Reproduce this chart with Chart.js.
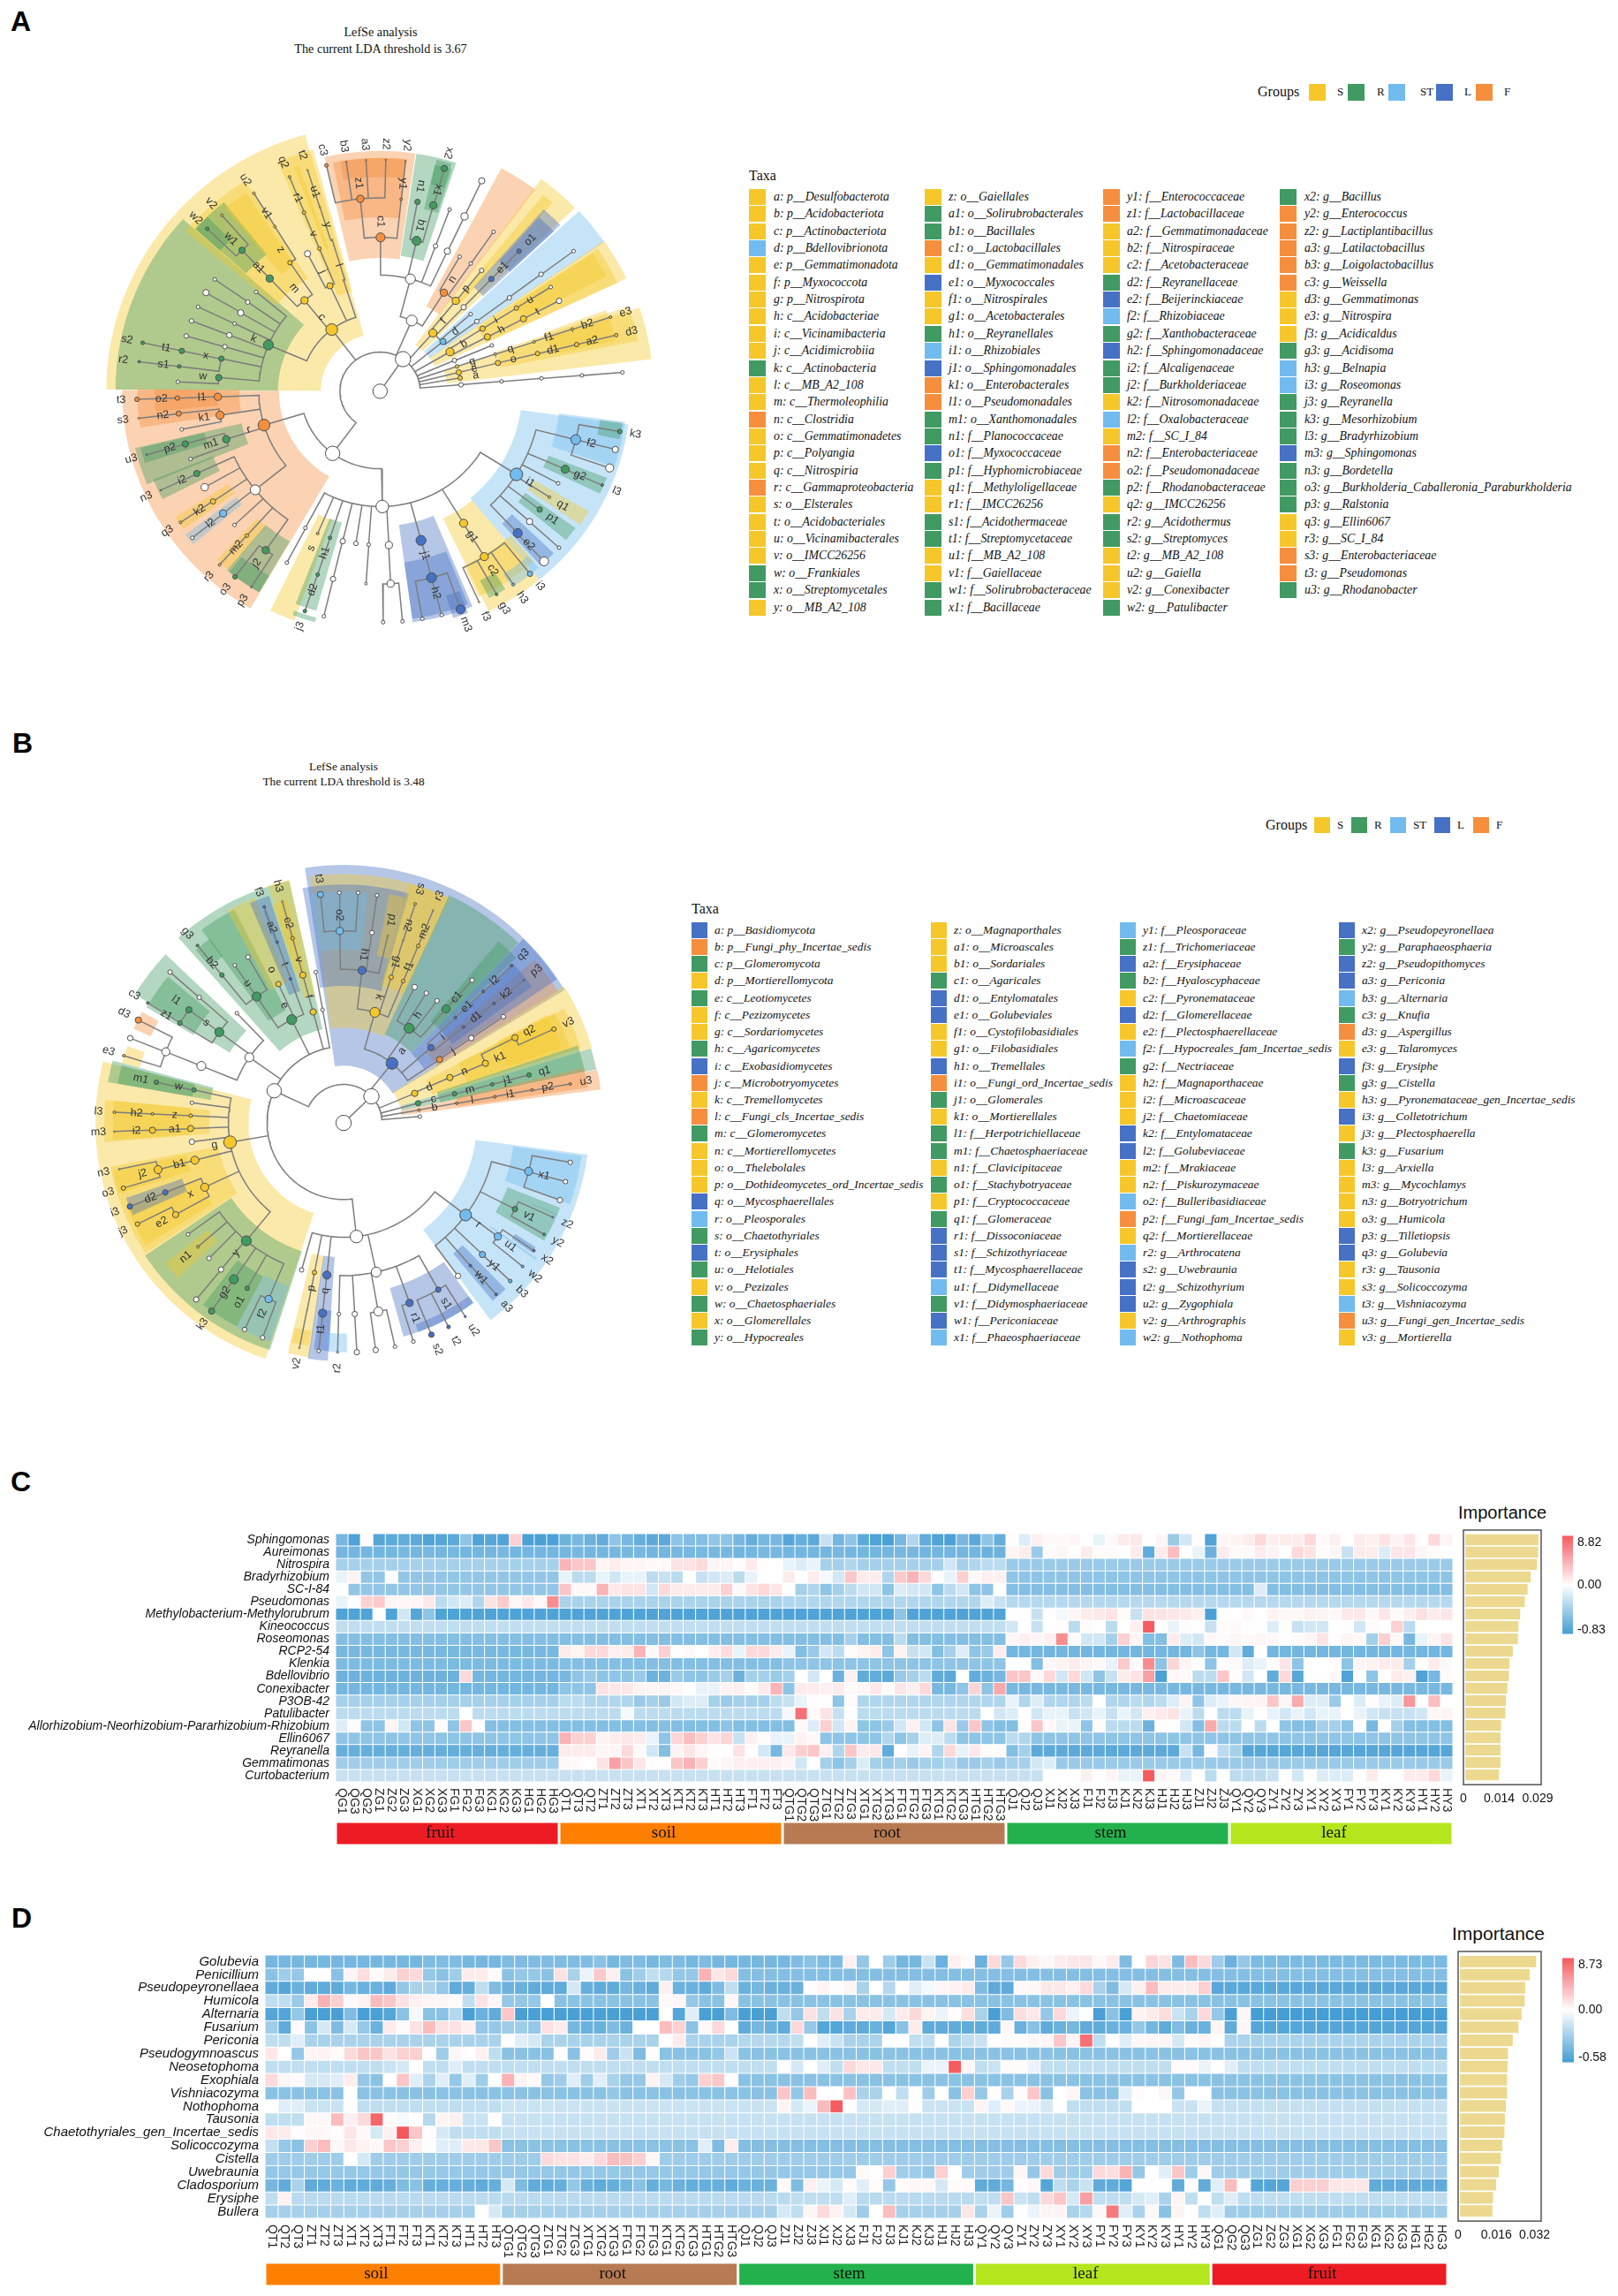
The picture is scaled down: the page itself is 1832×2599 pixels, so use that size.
<!DOCTYPE html>
<html><head><meta charset="utf-8"><title>LefSe and Random Forest importance</title>
<script src="https://cdn.jsdelivr.net/npm/chart.js@4"></script>
<style>html,body{margin:0;padding:0;background:#fff}#page{position:relative;width:1832px;height:2599px;overflow:hidden}canvas{position:absolute}.t{position:absolute;white-space:nowrap;color:#111;line-height:1}.s{position:absolute}</style>
</head><body><div id="page"></div>
<script>
const groupColor={S:'#F5C72B',R:'#419A61',T:'#71BBEE',L:'#4671C4',F:'#F58F3E',N:'#FFFFFF'};
const groupNames=[['S','S'],['R','R'],['T','ST'],['L','L'],['F','F']];

// Panel A cladogram: id, x, y, group, size, parent id
const nodesA=[['_root',845,893,'N',16,null],['_K',897,818,'N',17,'_root'],
['c',735,749,'S',13,'_K'],['_P2',737,1038,'N',16,'_K'],['_T',917,728,'N',12,'_K'],['f',965,757,'S',9,'_K'],['d',988,777,'T',7,'_K'],['b',1004,801,'S',9,'_K'],['_a1',1014,821,'N',5,'_K'],['_a2',1099,786,'N',4,'_a1'],['g',1020,835,'S',4,'_K'],['e',1024,849,'S',6,'_K'],['a',1027,862,'S',5,'_K'],
['_w1',1029,878,'N',5,'_K'],['_w2',1121,870,'N',4,'_w1'],['_w3',1212,863,'N',4,'_w2'],['_w4',1304,856,'N',4,'_w3'],['_w5',1396,849,'N',4,'_w4'],
['o',1113,827,'S',6,'e'],['d1',1203,805,'S',5,'o'],['a2',1292,784,'S',5,'d1'],['d3',1382,762,'S',4,'a2'],
['q',1107,806,'S',3,'g'],['f1',1195,778,'S',3,'q'],['b2',1282,748,'S',3,'f1'],['e3',1369,720,'S',3,'b2'],
['h',1089,766,'S',7,'b'],['t',1171,724,'S',7,'h'],['_b1',1252,682,'N',6,'t'],['i',1078,747,'S',6,'b'],['u',1155,699,'S',5,'i'],['_b2',1233,650,'N',4,'u'],
['_d1',1065,730,'N',5,'d'],['_d2',1139,675,'N',5,'_d1'],['_d3',1211,620,'N',5,'_d2'],['_d4',1285,566,'N',4,'_d3'],
['p',1017,682,'S',8,'f'],['_f1',1035,697,'N',6,'f'],['_f2',1051,713,'N',4,'f'],['_p1',1076,611,'N',5,'p'],['_p2',1051,595,'N',4,'p'],['_p3',1103,521,'N',4,'_p2'],['e1',1098,631,'L',6,'_f1'],['o1',1161,566,'L',5,'e1'],
['_T1',914,631,'N',11,'_T'],['n',990,663,'F',8,'_T'],['_n1',1026,579,'N',4,'n'],
['c1',846,534,'F',10,'_T1'],['b1',928,542,'R',10,'_T1'],['_t1',971,554,'N',5,'_T1'],['_t2',1003,469,'N',4,'_t1'],['_t3',998,566,'N',7,'_T1'],['_t4',1037,485,'N',8,'_t3'],['_t5',1076,402,'N',7,'_t4'],
['z1',800,444,'F',8,'c1'],['y1',893,445,'F',3,'c1'],['c3',723,366,'F',4,'z1'],['b3',768,358,'F',2,'z1'],['a3',813,354,'F',2,'z1'],['z2',858,353,'F',2,'z1'],['y2',903,356,'F',2,'y1'],
['n1',930,451,'R',6,'b1'],['x1',966,459,'R',8,'b1'],['x2',991,373,'R',7,'x1'],
['m',673,681,'S',8,'c'],['j',731,647,'S',7,'c'],['l',762,634,'S',2,'c'],['k',591,785,'R',11,'c'],
['_j1',680,572,'N',7,'j'],['v',707,560,'S',4,'j'],['y',736,540,'S',2,'l'],['r1',672,476,'S',4,'v'],['q2',639,393,'S',3,'r1'],['u1',708,463,'S',2,'y'],['t2',680,377,'S',2,'u1'],
['z',640,593,'S',5,'m'],['a1',594,630,'R',8,'m'],['v1',606,509,'S',3,'z'],['u2',558,431,'S',3,'v1'],['w1',531,564,'R',7,'a1'],['w2',452,514,'R',4,'w1'],['v2',485,482,'S',3,'w1'],
['w',478,861,'R',7,'k'],['x',484,817,'R',6,'k'],['_k1',492,789,'N',5,'k'],['_k2',502,762,'N',6,'k'],['_k3',514,735,'N',4,'k'],['_k4',528,710,'N',7,'k'],['_k5',544,685,'N',5,'k'],['_k6',563,661,'N',4,'k'],
['_w6',385,871,'N',4,'w'],['t1',394,799,'R',6,'x'],['s2',305,780,'R',4,'t1'],['s1',388,835,'R',4,'x'],['r2',297,824,'R',3,'s1'],['_k7',404,764,'N',5,'_k1'],['_k8',416,729,'N',5,'_k2'],['_k9',431,696,'N',4,'_k3'],['_k10',449,663,'N',7,'_k4'],['_k11',469,632,'N',4,'_k5'],
['r',581,972,'F',13,'_P2'],['_P3',850,1162,'N',14,'_P2'],
['l1',476,906,'F',8,'r'],['k1',481,949,'F',9,'r'],['m1',495,1005,'R',8,'r'],['_r1',561,1123,'N',11,'r'],
['o2',384,909,'F',5,'l1'],['t3',292,912,'F',5,'o2'],['n2',387,945,'F',6,'k1'],['s3',296,956,'F',2,'n2'],['_r2',394,982,'N',4,'k1'],['p2',402,1016,'R',7,'m1'],['u3',314,1041,'R',2,'p2'],['_r3',414,1051,'N',4,'m1'],
['i2',428,1085,'R',7,'_r1'],['n3',346,1124,'R',2,'i2'],['_r4',446,1117,'N',8,'_r1'],['k2',465,1150,'S',6,'_r1'],['q3',391,1199,'S',3,'k2'],['l2',488,1178,'T',8,'_r1'],['_r5',418,1235,'N',4,'l2'],['_r6',514,1205,'N',4,'_r1'],['m2',542,1230,'S',4,'_r1'],['r3',480,1298,'S',3,'m2'],['j2',585,1264,'R',8,'_r1'],['o3',515,1326,'R',5,'j2'],['p3',552,1350,'R',2,'j2'],
['_s1',675,1212,'N',4,'_P3'],['_s2',633,1293,'N',4,'_s1'],['s',703,1225,'S',3,'_P3'],['h1',731,1235,'R',4,'_P3'],['d2',703,1321,'R',4,'h1'],['j3',674,1406,'R',4,'d2'],['_s3',760,1243,'N',6,'_P3'],['_s4',738,1331,'N',6,'_s3'],['_s5',717,1418,'N',4,'_s4'],['_s6',790,1248,'N',5,'_P3'],['_s7',819,1251,'N',4,'_P3'],['_s8',813,1342,'N',3,'_s7'],['_s9',865,1252,'N',8,'_P3'],['_s10',869,1342,'N',8,'_s9'],['_s11',852,1432,'N',4,'_s10'],['_s12',896,1430,'N',4,'_s10'],
['j1',938,1241,'L',11,'_P3'],['h2',962,1328,'L',11,'j1'],['_h1',941,1424,'N',4,'h2'],['_h2',985,1415,'N',4,'h2'],['m3',1028,1402,'L',10,'h2'],
['g1',1035,1201,'S',9,'_P3'],['c2',1082,1279,'S',9,'g1'],['f3',1070,1385,'S',2,'c2'],['g3',1110,1367,'R',3,'c2'],['h3',1148,1344,'T',3,'c2'],['i3',1186,1319,'T',6,'c2'],
['i1',1155,1087,'T',14,'_P3'],['f2',1290,1006,'T',11,'i1'],['k3',1390,987,'R',5,'f2'],['_i1',1380,1029,'N',7,'f2'],['_i2',1367,1072,'N',9,'f2'],['g2',1266,1075,'R',9,'i1'],['l3',1350,1112,'R',3,'g2'],['_i3',1250,1108,'N',4,'i1'],['q1',1230,1140,'S',3,'i1'],['p1',1208,1169,'R',6,'i1'],['_i4',1185,1197,'N',7,'i1'],['_i5',1252,1258,'N',4,'_i4'],['e2',1158,1224,'L',10,'i1'],['_i6',1218,1290,'N',10,'e2']];

// Panel A clade shading: two opposite corners of each annular sector, group
const wedgesA=[[808,763,222,889,'S'],[672,738,243,889,'R'],[608,693,538,402,'S'],[540,618,490,452,'R'],[505,540,425,515,'R'],[620,620,540,430,'S'],[782,660,612,358,'S'],[728,560,650,370,'S'],
[775,590,925,338,'F'],[765,495,905,352,'F'],[762,400,905,352,'F'],[892,577,1018,360,'R'],[945,468,1008,375,'R'],[960,410,1008,362,'R'],
[950,695,1198,422,'F'],[925,785,1288,465,'S'],[1015,683,1237,453,'S'],[1058,650,1255,505,'L'],[1115,590,1240,520,'L'],[945,800,1355,545,'T'],[958,815,1405,630,'S'],[1065,745,1385,640,'S'],[1150,690,1360,625,'S'],
[990,845,1462,818,'S'],[1110,800,1432,775,'S'],[1220,755,1380,775,'S'],
[1165,937,1207,1333,'T'],[1252,945,1378,1070,'T'],[1345,960,1390,1005,'R'],[1228,1043,1345,1132,'R'],[1195,1100,1300,1205,'S'],[1175,1130,1268,1240,'R'],[1145,1180,1210,1300,'L'],
[988,1190,1207,1333,'S'],[1035,1300,1195,1290,'S'],[1072,1335,1130,1355,'R'],[1125,1320,1205,1305,'T'],
[888,1205,1055,1395,'L'],[900,1292,1045,1390,'L'],[995,1370,1045,1410,'L'],
[705,1180,650,1428,'S'],[730,1190,700,1405,'R'],[650,1405,697,1432,'R'],
[615,892,550,1400,'F'],[525,890,300,978,'F'],[475,890,335,940,'F'],[530,968,315,1110,'R'],[445,990,310,1060,'R'],[465,1045,350,1145,'R'],[500,1110,398,1215,'S'],[518,1140,420,1250,'T'],[565,1190,500,1310,'S'],[585,1205,570,1362,'R'],[530,1280,570,1362,'R']];

// Panel B cladogram
const nodesB=[['_root',782,910,'N',17,null],['_K',847,848,'N',17,'_root'],
['_x0',960,895,'N',4,'_K'],['b',958,880,'F',3,'_K'],['l',1046,864,'F',3,'b'],['i1',1135,849,'F',3,'l'],['p2',1222,833,'F',3,'i1'],['u3',1311,819,'F',3,'p2'],
['c',956,864,'R',6,'_K'],['m',1041,842,'R',5,'c'],['j1',1129,820,'R',4,'m'],['q1',1215,798,'R',5,'j1'],
['d',948,841,'S',7,'_K'],['n',1030,804,'S',7,'d'],['k1',1113,771,'S',7,'n'],['q2',1182,711,'S',7,'k1'],['v3',1273,691,'S',5,'q2'],
['a',895,771,'L',13,'_K'],['j',1006,762,'F',7,'a'],['_j1',1080,712,'N',6,'j'],['_j2',1155,662,'N',5,'_j1'],['i',986,734,'L',7,'a'],['e1',1043,664,'L',3,'i'],['l2',1108,603,'L',3,'e1'],['q3',1174,543,'L',3,'l2'],['d1',1062,686,'L',3,'i'],['k2',1133,631,'L',3,'d1'],['p3',1203,577,'L',2,'k2'],
['h',935,689,'R',11,'a'],['c1',1021,644,'R',9,'h'],['_c1',1082,577,'N',5,'c1'],['_c2',1000,625,'N',5,'h'],['_c3',975,607,'N',5,'h'],['_c4',948,593,'N',6,'h'],
['k',855,652,'S',11,'a'],['h1',825,554,'L',9,'k'],['o2',773,462,'T',8,'h1'],['t3',728,377,'T',7,'o2'],['_o1',772,373,'N',4,'o2'],['_o2',816,373,'N',4,'o2'],['_h1',848,466,'N',5,'h1'],['_h2',860,379,'N',4,'_h1'],['p1',885,473,'S',2,'h1'],
['g1',893,570,'S',5,'k'],['n2',921,484,'S',2,'g1'],['s3',949,399,'S',3,'n2'],['f1',921,579,'S',4,'k'],['m2',956,497,'S',4,'f1'],['r3',991,414,'S',2,'m2'],
['_L',620,835,'N',16,'_K'],['_u1',733,646,'N',4,'_L'],['_u2',717,558,'N',4,'_u1'],['f',711,651,'S',7,'_L'],['v',687,565,'S',7,'f'],['c2',663,479,'S',4,'v'],['h3',639,393,'S',2,'c2'],
['e',661,669,'R',11,'_L'],['o',630,586,'S',6,'e'],['t',658,574,'L',3,'e'],['a2',627,488,'L',3,'t'],['f3',597,406,'L',3,'a2'],['u',579,615,'R',10,'e'],['b2',498,565,'R',5,'u'],['g3',441,496,'R',3,'b2'],['_u3',528,542,'N',4,'u'],['_u4',559,523,'N',5,'u'],
['_M',562,757,'N',10,'_L'],['s',492,698,'R',10,'_M'],['l1',421,646,'R',7,'s'],['c3',325,630,'R',3,'l1'],['z1',400,677,'R',5,'s'],['_s1',445,617,'N',5,'s'],['_s2',377,558,'N',5,'_s1'],['_m1',450,777,'N',10,'_M'],['_m2',533,654,'N',4,'_M'],['_m3',367,744,'N',9,'_m1'],['_m4',284,712,'N',6,'_m3'],['d3',303,670,'F',7,'_m3'],['e3',269,753,'S',3,'_m3'],
['g',517,955,'S',14,'_L'],['w',433,833,'R',5,'g'],['m1',345,815,'R',5,'w'],['_g1',428,863,'N',4,'g'],['z',425,893,'S',4,'g'],['h2',336,889,'S',3,'z'],['l3',247,885,'S',3,'h2'],['a1',425,923,'S',7,'g'],['i2',336,927,'S',7,'a1'],['m3',247,930,'S',2,'i2'],['_g2',428,954,'N',6,'g'],
['b1',435,997,'S',9,'g'],['j2',349,1019,'S',9,'b1'],['n3',258,1018,'S',2,'j2'],['o3',268,1062,'S',5,'j2'],['x',458,1060,'S',9,'g'],['d2',366,1072,'L',6,'x'],['i3',283,1105,'L',6,'d2'],['e2',390,1124,'S',7,'x'],['j3',301,1146,'S',5,'e2'],
['y',555,1185,'R',11,'g'],['_y1',419,1170,'N',4,'y'],['n1',442,1199,'S',3,'y'],['_y2',468,1226,'N',5,'y'],['_y3',496,1252,'N',6,'y'],['_y4',438,1322,'N',6,'_y3'],['g2',526,1275,'R',10,'y'],['k3',474,1349,'R',7,'g2'],['o1',557,1296,'R',5,'y'],['f2',607,1321,'T',8,'y'],['_y5',551,1392,'N',5,'f2'],['_y6',593,1411,'N',5,'f2'],
['_Q',812,1175,'N',14,'_L'],['_q1',684,1253,'N',5,'_Q'],['p',714,1259,'S',5,'_Q'],['_q2',697,1347,'N',2,'p'],['v2',679,1435,'S',2,'_q2'],['q',743,1265,'L',9,'_Q'],['t1',733,1354,'L',9,'q'],['_q3',724,1442,'N',4,'t1'],
['_R',858,1258,'N',11,'_Q'],['_r1',771,1356,'N',4,'_R'],['r2',768,1445,'T',2.5,'_r1'],['_r2',808,1356,'N',6,'_R'],['_r3',813,1445,'N',6,'_r2'],['_r4',863,1350,'N',10,'_R'],['_r5',857,1440,'N',6,'_r4'],['_r6',902,1432,'N',4,'_r4'],
['r1',936,1330,'L',8,'_R'],['_r7',945,1420,'N',4,'r1'],['s1',1003,1299,'L',6,'_R'],['s2',987,1404,'L',6,'s1'],['t2',1027,1386,'L',4,'s1'],['u2',1066,1362,'L',2.5,'s1'],
['r',1067,1125,'T',13,'_Q'],['x1',1214,1023,'T',9,'r'],['_x1',1311,1002,'N',5,'x1'],['_x2',1300,1047,'N',5,'x1'],['_x3',1287,1090,'N',6,'x1'],['v1',1182,1111,'R',6,'r'],['z2',1270,1130,'L',2,'v1'],['y2',1250,1170,'R',3,'v1'],['u1',1142,1175,'T',8,'r'],['x2',1226,1208,'L',3,'u1'],['w2',1200,1245,'T',3,'u1'],['y1',1106,1217,'T',7,'r'],['b3',1171,1279,'T',4,'y1'],['w1',1078,1243,'L',3,'r'],['a3',1138,1310,'L',3,'w1'],['_x4',1049,1267,'N',6,'r']];

const wedgesB=[[762,778,1298,600,'L'],[975,745,1282,603,'F'],[752,690,1030,385,'S'],[727,595,935,375,'L'],[725,510,838,373,'T'],[860,520,925,385,'S'],[870,590,1025,385,'S'],[878,703,1190,490,'R'],[985,672,1185,525,'R'],[940,748,1280,575,'L'],[1010,695,1222,592,'L'],
[898,838,1362,735,'S'],[975,810,1335,735,'S'],[1050,770,1310,735,'S'],[1140,720,1290,735,'S'],[915,870,1372,785,'R'],[1000,838,1345,790,'R'],[915,882,1382,832,'F'],[1045,850,1352,828,'F'],
[633,743,655,345,'R'],[607,672,527,412,'R'],[470,545,470,480,'R'],[612,600,575,385,'S'],[655,612,608,380,'L'],[628,490,595,415,'L'],[690,620,655,343,'S'],[668,560,650,390,'S'],
[555,695,295,610,'R'],[470,650,322,640,'R'],[350,672,292,690,'F'],[318,745,265,770,'S'],
[567,855,600,1460,'S'],[478,828,232,815,'R'],[435,820,255,818,'R'],[470,880,225,955,'S'],[425,875,245,950,'S'],[490,965,320,1215,'S'],[415,985,258,1075,'S'],[445,1040,320,1195,'S'],[405,1040,290,1125,'L'],
[520,1085,610,1440,'R'],[465,1160,395,1272,'S'],[535,1230,533,1385,'R'],[595,1265,610,1420,'T'],
[708,1215,702,1457,'S'],[668,1388,700,1430,'S'],[735,1220,745,1465,'L'],[725,1345,748,1442,'L'],[745,1400,790,1445,'T'],
[890,1295,1085,1330,'L'],[950,1380,1085,1330,'L'],
[1090,950,1125,1370,'T'],[1178,965,1310,1100,'T'],[1165,1060,1250,1185,'R'],[1225,1100,1280,1125,'L'],[1125,1150,1230,1230,'T'],[1175,1180,1230,1200,'L'],[1060,1195,1130,1325,'L']];

// Legends
const taxaA1=['a: p__Desulfobacterota','b: p__Acidobacteriota','c: p__Actinobacteriota','d: p__Bdellovibrionota','e: p__Gemmatimonadota','f: p__Myxococcota','g: p__Nitrospirota','h: c__Acidobacteriae','i: c__Vicinamibacteria','j: c__Acidimicrobiia','k: c__Actinobacteria','l: c__MB_A2_108','m: c__Thermoleophilia','n: c__Clostridia','o: c__Gemmatimonadetes','p: c__Polyangia','q: c__Nitrospiria','r: c__Gammaproteobacteria','s: o__Elsterales','t: o__Acidobacteriales','u: o__Vicinamibacterales','v: o__IMCC26256','w: o__Frankiales','x: o__Streptomycetales','y: o__MB_A2_108'];
const taxaA2=['z: o__Gaiellales','a1: o__Solirubrobacterales','b1: o__Bacillales','c1: o__Lactobacillales','d1: o__Gemmatimonadales','e1: o__Myxococcales','f1: o__Nitrospirales','g1: o__Acetobacterales','h1: o__Reyranellales','i1: o__Rhizobiales','j1: o__Sphingomonadales','k1: o__Enterobacterales','l1: o__Pseudomonadales','m1: o__Xanthomonadales','n1: f__Planococcaceae','o1: f__Myxococcaceae','p1: f__Hyphomicrobiaceae','q1: f__Methyloligellaceae','r1: f__IMCC26256','s1: f__Acidothermaceae','t1: f__Streptomycetaceae','u1: f__MB_A2_108','v1: f__Gaiellaceae','w1: f__Solirubrobacteraceae','x1: f__Bacillaceae'];
const taxaA3=['y1: f__Enterococcaceae','z1: f__Lactobacillaceae','a2: f__Gemmatimonadaceae','b2: f__Nitrospiraceae','c2: f__Acetobacteraceae','d2: f__Reyranellaceae','e2: f__Beijerinckiaceae','f2: f__Rhizobiaceae','g2: f__Xanthobacteraceae','h2: f__Sphingomonadaceae','i2: f__Alcaligenaceae','j2: f__Burkholderiaceae','k2: f__Nitrosomonadaceae','l2: f__Oxalobacteraceae','m2: f__SC_I_84','n2: f__Enterobacteriaceae','o2: f__Pseudomonadaceae','p2: f__Rhodanobacteraceae','q2: g__IMCC26256','r2: g__Acidothermus','s2: g__Streptomyces','t2: g__MB_A2_108','u2: g__Gaiella','v2: g__Conexibacter','w2: g__Patulibacter'];
const taxaA4=['x2: g__Bacillus','y2: g__Enterococcus','z2: g__Lactiplantibacillus','a3: g__Latilactobacillus','b3: g__Loigolactobacillus','c3: g__Weissella','d3: g__Gemmatimonas','e3: g__Nitrospira','f3: g__Acidicaldus','g3: g__Acidisoma','h3: g__Belnapia','i3: g__Roseomonas','j3: g__Reyranella','k3: g__Mesorhizobium','l3: g__Bradyrhizobium','m3: g__Sphingomonas','n3: g__Bordetella','o3: g__Burkholderia_Caballeronia_Paraburkholderia','p3: g__Ralstonia','q3: g__Ellin6067','r3: g__SC_I_84','s3: g__Enterobacteriaceae','t3: g__Pseudomonas','u3: g__Rhodanobacter'];
const taxaAGroups=['SSSTSSSSSSRSSFSSSFSSSSRRS','SRRFSLSSRTLFFRRLRSSRRSSRR','FFSSSRLTRLRRSTSFFRSRRSSSR','RFFFFFSSSRTTRRRLRRRSSFFR'];
const taxaB1=['a: p__Basidiomycota','b: p__Fungi_phy_Incertae_sedis','c: p__Glomeromycota','d: p__Mortierellomycota','e: c__Leotiomycetes','f: c__Pezizomycetes','g: c__Sordariomycetes','h: c__Agaricomycetes','i: c__Exobasidiomycetes','j: c__Microbotryomycetes','k: c__Tremellomycetes','l: c__Fungi_cls_Incertae_sedis','m: c__Glomeromycetes','n: c__Mortierellomycetes','o: o__Thelebolales','p: o__Dothideomycetes_ord_Incertae_sedis','q: o__Mycosphaerellales','r: o__Pleosporales','s: o__Chaetothyriales','t: o__Erysiphales','u: o__Helotiales','v: o__Pezizales','w: o__Chaetosphaeriales','x: o__Glomerellales','y: o__Hypocreales'];
const taxaB2=['z: o__Magnaporthales','a1: o__Microascales','b1: o__Sordariales','c1: o__Agaricales','d1: o__Entylomatales','e1: o__Golubeviales','f1: o__Cystofilobasidiales','g1: o__Filobasidiales','h1: o__Tremellales','i1: o__Fungi_ord_Incertae_sedis','j1: o__Glomerales','k1: o__Mortierellales','l1: f__Herpotrichiellaceae','m1: f__Chaetosphaeriaceae','n1: f__Clavicipitaceae','o1: f__Stachybotryaceae','p1: f__Cryptococcaceae','q1: f__Glomeraceae','r1: f__Dissoconiaceae','s1: f__Schizothyriaceae','t1: f__Mycosphaerellaceae','u1: f__Didymellaceae','v1: f__Didymosphaeriaceae','w1: f__Periconiaceae','x1: f__Phaeosphaeriaceae'];
const taxaB3=['y1: f__Pleosporaceae','z1: f__Trichomeriaceae','a2: f__Erysiphaceae','b2: f__Hyaloscyphaceae','c2: f__Pyronemataceae','d2: f__Glomerellaceae','e2: f__Plectosphaerellaceae','f2: f__Hypocreales_fam_Incertae_sedis','g2: f__Nectriaceae','h2: f__Magnaporthaceae','i2: f__Microascaceae','j2: f__Chaetomiaceae','k2: f__Entylomataceae','l2: f__Golubeviaceae','m2: f__Mrakiaceae','n2: f__Piskurozymaceae','o2: f__Bulleribasidiaceae','p2: f__Fungi_fam_Incertae_sedis','q2: f__Mortierellaceae','r2: g__Arthrocatena','s2: g__Uwebraunia','t2: g__Schizothyrium','u2: g__Zygophiala','v2: g__Arthrographis','w2: g__Nothophoma'];
const taxaB4=['x2: g__Pseudopeyronellaea','y2: g__Paraphaeosphaeria','z2: g__Pseudopithomyces','a3: g__Periconia','b3: g__Alternaria','c3: g__Knufia','d3: g__Aspergillus','e3: g__Talaromyces','f3: g__Erysiphe','g3: g__Cistella','h3: g__Pyronemataceae_gen_Incertae_sedis','i3: g__Colletotrichum','j3: g__Plectosphaerella','k3: g__Fusarium','l3: g__Arxiella','m3: g__Mycochlamys','n3: g__Botryotrichum','o3: g__Humicola','p3: g__Tilletiopsis','q3: g__Golubevia','r3: g__Tausonia','s3: g__Solicoccozyma','t3: g__Vishniacozyma','u3: g__Fungi_gen_Incertae_sedis','v3: g__Mortierella'];
const taxaBGroups=['LFRSRSSRLFSFRSSSLTRLRSRSR','SSSRLLSSLFRSRRSRSRLLLTRLT','TRLRSLSTRSSSLLSSTFSTLLLST','LRLLTRFSLRSLSRSSSSLLSSTFS'];

// Heat maps
const genusC=['Sphingomonas','Aureimonas','Nitrospira','Bradyrhizobium','SC-I-84','Pseudomonas','Methylobacterium-Methylorubrum','Kineococcus','Roseomonas','RCP2-54','Klenkia','Bdellovibrio','Conexibacter','P3OB-42','Patulibacter','Allorhizobium-Neorhizobium-Pararhizobium-Rhizobium','Ellin6067','Reyranella','Gemmatimonas','Curtobacterium'];
const samplesC=['QG1','QG3','QG2','ZG1','ZG2','ZG3','XG1','XG2','XG3','FG1','FG2','FG3','KG1','KG2','KG3','HG1','HG2','HG3','QT1','QT3','QT2','ZT1','ZT2','ZT3','XT1','XT2','XT3','KT1','KT2','KT3','HT1','HT2','HT3','FT1','FT2','FT3','QTG1','QTG2','QTG3','ZTG1','ZTG2','ZTG3','XTG1','XTG2','XTG3','FTG1','FTG2','FTG3','KTG1','KTG2','KTG3','HTG1','HTG2','HTG3','QJ1','QJ2','QJ3','XJ1','XJ2','XJ3','FJ1','FJ2','FJ3','KJ1','KJ2','KJ3','HJ1','HJ2','HJ3','ZJ1','ZJ2','ZJ3','QY1','QY2','QY3','ZY1','ZY2','ZY3','XY1','XY2','XY3','FY1','FY2','FY3','KY1','KY2','KY3','HY1','HY2','HY3'];
const c00=[-.6,-.78,.2,-.75,-.72,-.7,-.72,-.78,-.75,-.72,-.5,-.78,-.75,-.78,2.5,-.8,-.8,-.8, -.65,-.6,-.65,-.7,-.5,-.6,-.68,-.72,-.72,-.5,-.55,-.55,-.48,-.5,-.6,-.68,-.6,-.6, -.75,-.68,-.72,-.25,-.62,-.5,-.72,-.78,-.8,-.6,-.35,-.7,-.78,-.8,-.6,-.72,-.5,-.68, .1,-.15,.8,.3,.3,.5,.1,-.1,.3,1,1.2,.1,.5,-.45,-.2,.1,-.78,.5, .6,1,2,.8,1,1,2,.3,.8,.1,1,.8,1.5,.7,1.3,.1,2,.6];
const c01=[-.62,-.62,-.62,-.62,-.62,-.6,-.62,-.6,-.62,-.6,-.62,-.62,-.62,-.6,-.62,-.62,-.62,-.62, -.62,-.6,-.62,-.62,-.6,-.6,-.6,-.62,-.62,-.6,-.6,-.6,-.6,-.6,-.62,-.62,-.6,-.6, -.62,-.62,-.62,-.62,-.6,-.62,-.62,-.62,-.62,-.6,-.6,-.62,-.62,-.62,-.62,-.62,-.65,-.65, .6,1,-.45,.3,.5,.1,1,.2,.2,.1,1,-.7,1,3.5,.1,-.1,-.65,1, .3,.3,1,.6,.1,2,1.5,.2,.5,-.25,1,1,-.15,1.3,1.3,.5,.2,0];
const c02=[-.4,-.4,-.4,-.4,-.4,-.4,-.4,-.4,-.4,-.4,-.4,-.4,-.4,-.4,-.4,-.4,-.4,-.4, 4,3,3,.6,1,.5,.5,.3,.3,1.5,1.5,2,.5,.5,.1,1,.1,.1, -.1,-.15,-.1,-.4,-.4,-.35,-.4,-.4,-.4,-.4,-.4,-.4,-.4,-.2,-.4,-.35,-.3,-.3, -.45,-.45,-.45,-.45,-.45,-.45,-.45,-.45,-.45,-.45,-.45,-.45,-.45,-.45,-.45,-.45,-.45,-.45, -.45,-.45,-.45,-.45,-.45,-.45,-.45,-.45,-.45,-.45,-.45,-.45,-.45,-.45,-.45,-.45,-.45,-.45];
const c03=[-.1,.6,-.48,-.48,0,-.48,-.48,-.48,-.48,-.48,-.48,-.48,-.48,-.48,-.48,-.48,-.48,-.48, -.1,-.3,-.3,-.1,-.2,-.1,-.1,-.3,-.25,-.3,0,-.25,-.2,-.15,-.3,-.1,0,0, 1,0,1,-.05,-.2,3,1,1,-.35,2.8,4,2,.1,-.1,2.5,.3,.8,.8, -.5,-.5,-.5,-.5,-.5,-.5,-.5,-.5,-.5,-.5,-.5,-.5,-.5,-.5,-.5,-.5,-.5,-.5, -.5,-.5,-.5,-.5,-.5,-.5,-.5,-.5,-.5,-.5,-.5,-.5,-.5,-.5,-.5,-.5,-.5,-.5];
const c04=[0,-.48,-.48,-.48,-.48,-.48,-.48,-.48,-.48,-.48,-.48,-.48,-.48,-.48,-.48,-.48,-.48,-.48, 3,.4,.3,4,1.2,1.5,1.5,-.2,2,1,1,1,1,2.5,.3,1.5,2,1.3, 0,-.4,-.35,-.5,-.4,-.3,-.2,-.2,-.5,-.15,-.2,-.2,-.5,-.3,-.2,-.5,-.5,0, -.55,-.55,-.55,-.55,-.55,-.55,-.55,-.55,-.55,-.55,-.55,-.55,-.55,-.55,-.55,-.55,-.55,-.55, -.55,-.55,-.15,-.55,-.55,-.55,-.55,-.55,-.55,-.55,-.55,-.55,-.55,-.55,-.55,-.55,-.55,-.55];
const c05=[-.1,.1,2.5,2.8,.5,.5,.5,1.2,-.3,-.2,-.15,-.35,1.5,2.8,.5,1.2,.3,6, -.38,-.38,-.38,-.38,-.38,-.38,-.38,-.38,-.38,-.38,-.38,-.38,-.38,-.38,-.38,-.38,-.38,-.38, -.35,-.35,-.35,-.35,-.35,-.35,-.35,-.35,-.35,-.35,-.35,-.35,-.35,-.35,-.35,-.35,-.15,-.25, -.33,-.33,-.33,-.33,-.33,-.33,-.33,-.33,-.33,-.33,-.33,-.33,-.33,-.33,-.33,-.33,-.33,-.33, -.33,-.33,-.33,-.33,-.33,-.33,-.33,-.33,-.33,-.33,-.33,-.33,-.33,-.33,-.33,-.33,-.33,-.33];
const c06=[-.78,-.78,-.78,0,-.78,-.2,-.75,-.5,-.78,-.78,-.78,-.78,-.78,-.78,-.78,-.78,-.78,-.78, -.78,-.78,-.78,-.78,-.78,-.78,-.78,-.78,-.78,-.78,-.78,-.78,-.78,-.78,-.78,-.78,-.78,-.78, -.78,-.78,-.78,-.78,-.78,-.78,-.78,-.78,-.78,-.5,-.78,-.78,-.78,-.78,-.78,-.78,-.78,-.78, .1,.1,-.25,.1,-.05,.5,1,1.2,1.5,.2,-.25,1.5,1.5,1.3,1.2,.8,-.8,.1, .1,.4,.1,.6,.4,.4,.7,.6,.4,1.2,1.2,.4,1.3,.2,.8,1.6,1,1.3];
const c07=[-.28,-.28,-.28,-.28,-.28,-.28,-.28,-.28,-.28,-.28,-.28,-.28,-.28,-.28,-.28,-.28,-.28,-.28, -.28,-.28,-.28,-.28,-.28,-.28,-.28,-.28,-.28,-.28,-.28,-.28,-.28,-.28,-.28,-.28,-.28,-.28, -.28,-.28,-.28,-.28,-.28,-.28,-.28,-.28,-.28,-.28,-.28,-.28,-.28,-.28,-.28,-.28,-.28,-.28, -.2,0,-.25,0,.1,-.3,.2,.1,-.3,.1,.8,8.6,0,-.1,.2,.1,-.25,.2, .3,.1,.1,-.15,.1,-.25,-.2,-.2,0,.1,-.2,.2,0,2.5,-.3,0,0,.1];
const c08=[-.55,-.55,-.55,-.55,-.55,-.55,-.55,-.55,-.55,-.55,-.55,-.55,-.55,-.55,-.55,-.55,-.55,-.55, -.55,-.55,-.55,-.55,-.55,-.55,-.55,-.55,-.55,-.55,-.55,-.55,-.55,-.55,-.55,-.55,-.55,-.55, -.55,-.55,-.55,-.55,-.55,-.4,-.55,-.55,-.55,-.3,-.55,-.55,-.55,-.55,-.55,-.55,-.55,-.55, .5,.8,.5,.8,6,.2,-.2,-.2,-.4,2.5,.6,-.55,-.55,1,-.15,-.2,.4,.3, .5,.3,.5,.4,.1,.2,.5,1.5,.1,.6,.4,-.4,2.5,.4,-.6,-.1,.6,1.5];
const c09=[-.6,-.6,-.6,-.6,-.6,-.6,-.6,-.6,-.6,-.6,-.6,-.6,-.6,-.6,-.6,-.6,-.6,-.6, 1,.6,2,2,.8,1,4,.3,2.5,.1,.4,.1,.9,1.8,-.1,2,2,1, -.1,-.55,-.45,-.2,-.3,.2,.6,1,-.5,.7,-.25,-.2,-.55,-.4,-.15,-.5,-.45,.9, -.62,-.62,-.62,-.62,-.62,-.62,-.62,-.62,-.62,-.62,-.62,-.62,-.62,-.62,-.62,-.5,-.62,-.62, -.2,-.7,0,-.62,-.62,-.62,-.62,-.62,-.62,-.62,-.62,-.62,-.62,-.62,-.62,-.62,-.62,-.62];
const c10=[-.58,-.58,-.58,-.58,-.58,-.58,-.58,-.58,-.58,-.58,-.58,-.58,-.58,-.58,-.58,-.58,-.58,-.58, -.55,-.55,-.55,-.55,-.55,-.55,-.55,-.55,-.55,-.55,-.55,-.55,-.55,-.55,-.55,-.55,-.55,-.55, -.5,-.5,-.5,-.5,-.5,-.5,-.5,-.5,-.5,-.5,-.5,-.5,-.5,-.5,-.5,-.5,-.5,-.5, 0,.1,-.55,.4,.6,1,.6,.3,-.1,2.8,.3,6,-.5,2.2,.6,.1,-.5,.1, .3,-.15,-.1,.1,1.3,-.5,0,.1,.2,-.5,.5,.7,1,1,-.4,.1,1,.3];
const c11=[-.65,-.65,-.65,-.65,-.65,-.65,-.65,-.65,-.65,-.65,2,-.62,-.62,-.62,-.62,-.62,-.62,-.62, -.6,-.5,-.45,-.5,-.5,-.5,-.45,-.65,-.65,-.45,-.5,-.5,-.45,-.4,-.65,-.4,-.4,-.45, -.4,0,-.2,0,-.65,.8,-.7,-.7,-.72,-.45,-.4,-.3,-.7,-.72,0,-.7,-.65,-.6, 3,3,.3,2,-.2,2,-.2,-.5,-.25,1,1.5,5,-.8,.4,.2,-.3,-.3,3, .1,-.2,0,-.7,2,-.75,.1,.1,.3,-.78,.1,-.5,.1,1,.8,-.78,-.6,.2];
const c12=[-.62,-.62,-.62,-.62,-.62,-.62,-.62,-.62,-.62,-.62,-.62,-.62,-.62,-.62,-.62,-.62,-.62,-.62, -.5,-.5,-.5,1.5,1.2,1.2,.6,.5,.6,.4,0,-.1,-.1,.7,.8,.2,1,4, -.5,1,1,.8,1,.3,.5,1.2,.2,1.3,.8,2,-.6,-.6,-.5,2.2,-.5,4.5, -.6,-.6,-.6,-.6,-.6,-.6,-.6,-.6,-.6,-.6,-.6,-.6,-.6,-.6,-.6,-.6,-.6,-.6, -.6,-.6,-.6,-.6,-.6,-.6,-.6,-.6,-.6,-.6,-.6,-.6,-.6,-.6,-.6,-.6,-.6,-.6];
const c13=[-.4,-.4,-.4,-.4,-.4,-.4,-.4,-.4,-.4,-.4,-.4,-.4,-.4,-.4,-.4,-.4,-.4,-.4, -.3,-.3,-.35,-.35,-.35,-.35,-.45,-.4,-.45,-.2,-.15,-.15,-.4,-.45,-.4,-.4,-.4,-.3, -.25,-.1,.1,.1,-.5,.2,-.35,-.35,-.35,-.35,-.35,-.35,-.35,-.35,-.35,-.35,-.35,-.35, -.1,-.35,-.15,-.35,-.35,-.35,-.3,0,-.35,-.35,-.3,-.35,-.3,-.15,.6,-.5,-.15,-.1, .5,.6,.6,3,.5,4.5,-.15,-.15,-.45,0,-.15,.1,-.1,-.15,5.5,.1,3.5,.1];
const c14=[-.3,-.3,-.3,-.3,-.3,-.3,-.3,-.3,-.3,-.3,0,-.3,-.3,-.3,-.3,-.3,-.3,-.3, -.3,-.3,-.3,-.3,-.3,-.05,-.3,-.3,-.3,-.3,-.3,-.3,-.3,-.3,-.3,-.3,-.3,-.3, -.05,7.5,.3,1.5,-.25,.1,-.3,-.3,-.3,-.3,-.3,-.3,-.3,-.3,-.3,-.3,0,-.2, -.15,0,-.2,-.1,-.1,-.25,-.2,-.1,-.25,-.1,-.2,.8,1.2,1.5,-.1,-.3,0,-.3, -.3,-.1,.1,-.1,-.2,-.1,-.2,-.1,-.1,.1,-.1,-.2,-.25,-.25,-.25,-.2,.5,.6];
const c15=[-.15,.2,-.5,-.5,.6,-.2,-.5,-.5,.2,-.5,3,.1,-.55,-.55,-.55,-.55,-.55,-.55, -.55,-.55,-.55,-.55,-.55,-.55,-.55,-.55,-.55,-.55,-.55,-.55,-.55,-.5,-.55,-.55,-.55,-.55, -.55,.3,-.15,2.5,-.2,.7,-.5,-.5,-.45,-.2,.8,-.2,-.5,1.5,-.45,3,-.5,-.55, -.55,.1,3,.3,-.1,-.1,-.5,.2,-.3,-.3,-.3,-.65,.1,.1,-.2,-.55,4.5,-.3, -.3,0,-.3,0,-.5,-.55,-.55,-.4,-.4,-.5,.1,-.6,0,-.4,-.55,-.55,-.55,-.55];
const c16=[-.5,-.5,-.5,-.5,-.5,-.5,-.5,-.5,-.5,-.5,-.5,-.5,-.5,-.5,-.5,-.5,-.5,-.5, 4,2.5,2.5,.6,1,1.3,1,-.1,-.5,2.2,3.5,2.5,1.5,2.2,-.25,.8,.2,-.1, -.1,.7,.3,-.5,-.5,-.5,-.5,-.5,-.35,-.5,-.4,-.15,-.15,-.3,-.5,-.5,-.5,-.5, -.3,-.35,-.5,-.5,-.5,-.5,-.5,-.5,-.5,-.5,-.5,-.5,-.5,-.5,-.5,-.5,-.5,-.5, -.5,-.5,-.5,-.5,-.5,-.5,-.5,-.5,-.5,-.5,-.5,-.5,-.5,-.5,-.5,-.5,-.5,-.5];
const c17=[-.68,-.68,-.68,-.68,-.68,-.68,-.68,-.68,-.68,-.68,-.68,-.68,-.68,-.68,-.68,-.68,-.68,-.68, 1,1,1,.5,.5,2,.3,-.2,-.55,.7,1.3,.5,.1,.1,1.5,.1,-.2,-.6, 1.2,2.5,3,.8,-.35,3,1,1.2,-.7,0,-.1,.6,-.35,2,-.1,1.2,.2,.3, -.55,-.4,-.72,-.72,-.72,-.72,-.72,-.72,-.72,-.72,-.72,-.72,-.72,-.72,-.25,-.6,.2,-.3, -.4,-.75,-.75,-.75,-.75,-.75,-.75,-.75,-.75,-.75,-.75,-.75,-.75,-.75,-.75,-.75,-.75,-.75];
const c18=[-.42,-.42,-.42,-.42,-.42,-.42,-.42,-.42,-.42,-.42,-.42,-.42,-.42,-.42,-.42,-.42,-.42,-.42, .4,.3,.1,1.5,5,3,1.3,.1,.1,3,4,2.5,.2,.5,.8,.8,.8,.8, .5,-.2,0,-.4,-.5,-.4,-.15,-.4,-.45,-.4,-.45,-.4,-.4,-.35,-.45,-.45,-.4,-.45, -.4,-.4,-.2,-.15,-.45,-.45,-.45,-.45,-.45,-.45,-.45,-.45,-.45,-.45,-.45,-.45,-.45,-.45, -.45,-.45,-.45,-.45,-.45,-.45,-.45,-.45,-.45,-.45,-.45,-.45,-.45,-.45,-.45,-.45,-.45,-.45];
const c19=[-.25,-.25,-.25,-.25,-.25,-.25,-.25,-.25,-.25,-.25,-.25,-.25,-.25,-.25,-.25,-.25,-.25,-.25, -.25,-.25,-.25,-.25,-.25,-.25,-.25,-.25,-.25,-.25,-.25,-.25,-.25,-.25,-.25,-.25,-.25,-.25, -.25,-.25,-.25,-.25,-.25,-.25,-.25,-.25,-.25,-.25,-.25,-.25,-.25,-.25,-.25,-.25,-.25,-.25, -.25,-.25,-.25,.1,.1,.1,.8,.1,.5,-.1,-.1,8.6,.5,.3,-.15,.1,-.3,.1, -.3,-.3,-.3,-.25,.1,-.2,.1,-.15,-.15,-.15,.1,1,0,0,1,1,2,-.1];
const valuesC=[c00,c01,c02,c03,c04,c05,c06,c07,c08,c09,c10,c11,c12,c13,c14,c15,c16,c17,c18,c19];
const importanceC=[.0294,.0292,.0288,.0263,.0251,.024,.0222,.0215,.0213,.0193,.018,.0178,.0172,.0166,.0164,.0147,.0145,.0145,.0145,.0139];

const genusD=['Golubevia','Penicillium','Pseudopeyronellaea','Humicola','Alternaria','Fusarium','Periconia','Pseudogymnoascus','Neosetophoma','Exophiala','Vishniacozyma','Nothophoma','Tausonia','Chaetothyriales_gen_Incertae_sedis','Solicoccozyma','Cistella','Uwebraunia','Cladosporium','Erysiphe','Bullera'];
const samplesD=['QT1','QT2','QT3','ZT1','ZT2','ZT3','XT1','XT2','XT3','FT1','FT2','FT3','KT1','KT2','KT3','HT1','HT2','HT3','QTG1','QTG2','QTG3','ZTG1','ZTG2','ZTG3','XTG1','XTG2','XTG3','FTG1','FTG2','FTG3','KTG1','KTG2','KTG3','HTG1','HTG2','HTG3','QJ1','QJ2','QJ3','ZJ1','ZJ2','ZJ3','XJ1','XJ2','XJ3','FJ1','FJ2','FJ3','KJ1','KJ2','KJ3','HJ1','HJ2','HJ3','QY1','QY2','QY3','ZY1','ZY2','ZY3','XY1','XY2','XY3','FY1','FY2','FY3','KY1','KY2','KY3','HY1','HY2','HY3','QG1','QG2','QG3','ZG1','ZG2','ZG3','XG1','XG2','XG3','FG1','FG2','FG3','KG1','KG2','KG3','HG1','HG2','HG3'];
const d00=[-.65,-.65,-.65,-.65,-.65,-.65,-.65,-.65,-.65,-.65,-.65,-.65,-.6,-.6,-.6,-.65,-.65,-.65, -.6,-.6,-.6,-.6,-.6,-.6,-.6,-.55,-.65,-.6,-.6,-.65,-.6,-.6,-.65,-.6,-.65,-.65, -.65,-.65,-.65,-.65,-.6,-.55,-.6,-.6,.8,-.5,0,-.45,-.65,-.65,-.25,-.7,.8,.2, -.7,2,-.5,2,.8,.4,1,1.3,1.3,.4,1,-.6,0,2.2,1.5,-.6,3.5,2, -.45,-.7,-.5,-.62,-.62,-.62,-.62,-.62,-.62,-.62,-.62,-.62,-.62,-.62,-.62,-.62,-.62,-.62];
const d01=[-.55,-.45,-.5,0,0,-.55,.5,1.8,.2,1,2.5,2,-.5,-.55,-.45,1,1,.2, -.55,-.5,-.5,-.55,1.5,-.4,-.1,2.8,.8,-.55,-.45,-.3,-.35,-.5,-.5,4,1.2,2, -.58,-.58,-.58,-.58,-.58,-.58,-.58,-.58,-.58,-.58,-.58,-.58,-.58,-.58,-.58,-.58,-.58,-.58, -.58,-.58,-.58,-.58,-.58,-.58,-.58,-.58,-.58,-.58,-.58,-.58,-.58,-.58,-.58,-.58,-.58,-.58, -.58,-.58,-.58,-.58,-.58,-.58,-.58,-.58,-.58,-.58,-.58,-.58,-.58,-.58,-.58,-.58,-.58,-.58];
const d02=[-.75,-.8,-.7,-.75,-.75,-.75,-.65,-.7,-.7,-.75,-.5,-.4,-.4,-.5,-.75,-.72,-.3,-.6, -.68,-.7,-.75,-.75,-.75,-.2,-.72,-.75,-.75,-.65,-.7,-.75,.8,-.7,-.7,-.75,-.6,-.3, -.7,-.65,-.7,-.7,-.7,.1,.6,.1,.6,-.4,0,-.35,.1,-.15,-.05,.4,.7,1, -.6,-.75,-.75,.3,.4,1.2,1.2,.8,2,-.4,-.6,-.2,.8,3.5,1,1,1,2.5, -.78,-.78,-.78,-.78,-.78,-.78,-.78,-.78,-.78,-.78,-.78,-.78,-.78,-.78,-.78,-.78,-.78,-.78];
const d03=[-.3,-.3,-.48,1,4,2.5,.3,.7,3.5,3,1.5,.8,.5,.5,.2,-.3,1.5,.5, -.5,-.5,-.5,0,-.55,-.55,-.55,-.55,-.55,-.55,-.55,-.55,.3,.5,-.5,-.55,-.55,.5, -.55,-.55,-.55,-.55,-.55,-.55,-.55,-.55,-.55,-.55,-.55,-.55,-.55,-.55,-.55,-.55,-.55,-.55, -.55,-.55,-.55,-.55,-.55,-.55,-.55,-.55,-.55,-.55,-.55,-.55,-.55,-.55,-.55,-.55,-.55,-.55, -.55,-.55,-.55,-.55,-.55,-.55,-.55,-.55,-.55,-.55,-.55,-.55,-.55,-.55,-.55,-.55,-.55,-.55];
const d04=[-.8,-.8,-.5,-.85,-.85,-.85,-.6,-.85,-.85,-.8,-.55,-.05,-.55,-.55,-.35,-.85,-.7,-.75, 3,-.85,-.85,-.85,-.85,-.85,-.85,-.85,-.85,-.85,-.85,-.85,0,-.8,-.15,-.85,-.85,-.6, -.85,-.85,-.85,-.3,-.5,1.5,-.3,1.5,-.4,1,1,-.2,1,2,.6,-.1,.1,1.8, -.4,-.85,-.6,1.8,1.2,-.5,2,-.1,0,-.85,-.55,-.85,.6,1,1.8,-.25,-.4,2, -.5,-.85,.5,-.9,-.9,-.9,-.9,-.9,-.9,-.9,-.9,-.9,-.9,-.9,-.9,-.9,-.9,-.9];
const d05=[-.45,-.75,.3,-.55,-.2,-.6,-.2,-.5,-.7,1,.2,1.5,3.5,1.5,1.5,.8,-.5,-.5, -.45,-.45,-.5,1.5,1,-.65,-.7,-.7,-.6,-.7,0,0,3.5,2.5,-.55,.3,2,0, -.75,-.65,-.7,-.75,2,-.5,-.8,-.8,-.75,-.75,-.7,-.8,-.55,1,-.75,-.75,-.75,-.75, -.75,-.75,.4,-.7,-.55,-.75,-.7,-.65,-.75,-.75,-.7,-.7,-.5,-.65,-.75,-.6,-.7,-.7, .6,-.75,.5,-.8,-.8,-.8,-.8,-.8,-.8,-.8,-.8,-.8,-.8,-.8,-.8,-.8,-.8,-.8];
const d06=[-.3,-.3,-.15,-.4,-.4,-.4,-.4,-.4,-.4,-.4,-.4,-.4,-.4,-.4,-.4,-.4,-.4,-.4, .1,-.15,-.2,-.4,-.4,-.4,-.4,-.4,-.4,-.4,-.4,-.4,.1,1,-.4,-.4,-.4,-.4, -.35,-.35,-.35,-.35,-.3,.1,-.15,-.25,-.4,-.4,-.4,.1,0,-.3,-.3,.1,-.4,-.3, -.25,.1,.2,.2,.4,.5,3,.6,7.5,-.3,0,-.15,.4,.5,.6,-.2,.2,.6, .1,-.4,-.4,-.4,-.4,-.4,-.4,-.4,-.4,-.4,-.4,-.4,-.4,-.4,-.4,-.4,-.4,-.4];
const d07=[1.2,0,-.5,.6,.6,.2,2,3,3,1.5,2.5,2.5,.1,-.45,.4,.1,.8,-.3, -.55,-.55,-.55,-.55,.1,-.55,.2,1,-.45,-.25,-.6,.1,-.55,-.55,-.55,-.55,-.5,-.25, -.55,-.55,-.55,-.55,-.55,-.55,-.55,-.55,-.55,-.55,-.55,-.55,-.55,-.55,-.55,-.55,-.55,-.55, -.55,-.55,-.55,-.55,-.55,-.55,-.55,-.55,-.55,-.55,-.55,-.55,-.55,-.55,-.55,-.55,-.55,-.55, -.55,-.55,-.55,-.55,-.55,-.55,-.55,-.55,-.55,-.55,-.55,-.55,-.55,-.55,-.55,-.55,-.55,-.55];
const d08=[-.3,-.3,-.3,-.3,-.3,-.3,-.3,-.3,-.3,-.25,-.2,0,-.3,-.3,-.15,-.3,-.3,-.3, -.3,-.3,-.3,-.3,-.3,-.3,-.3,-.3,-.3,-.3,-.3,-.3,-.3,-.3,-.3,-.3,-.3,-.3, -.3,-.3,-.3,.1,-.2,0,-.15,-.3,2,1.2,1.2,-.3,-.3,-.3,-.1,-.1,8.5,.5, -.3,-.25,.2,.2,-.1,-.3,-.3,-.3,-.3,-.3,-.3,-.3,-.3,-.3,-.3,.2,.2,-.1, 0,-.15,-.3,-.3,-.3,-.3,-.3,-.3,-.3,-.3,-.3,-.3,-.3,-.3,-.3,-.3,-.3,-.3];
const d09=[2,.5,.2,-.2,-.2,-.15,1,-.5,-.55,.1,3,-.15,-.4,-.15,-.5,-.15,-.45,0, 4,.6,.3,-.5,-.45,-.15,-.45,-.15,-.4,-.5,-.5,.7,-.2,-.45,-.5,2.5,3,.1, -.55,-.55,-.55,-.55,-.55,-.55,-.55,-.55,-.55,-.55,-.55,-.55,-.55,-.55,-.55,-.55,-.55,-.55, -.55,-.55,-.55,-.55,-.55,-.55,-.55,-.55,-.55,-.55,-.55,-.55,-.55,-.55,-.55,-.55,-.55,-.55, -.55,-.55,-.55,-.55,-.55,-.55,-.55,-.55,-.55,-.55,-.55,-.55,-.55,-.55,-.55,-.55,-.55,-.55];
const d10=[-.55,-.55,-.55,-.55,-.55,-.55,.1,-.55,-.55,-.55,-.55,-.55,-.55,-.55,-.55,-.55,-.55,-.55, -.55,-.55,-.55,-.55,-.55,-.55,-.55,-.55,-.5,-.55,-.55,-.55,-.55,-.55,-.55,-.55,-.55,-.55, -.55,-.55,-.55,3,-.5,3.5,0,0,3.2,-.4,-.4,0,-.3,.1,-.45,0,-.55,2.5, -.5,.1,-.4,.2,3,-.55,0,.5,-.55,-.55,-.55,-.15,.2,0,.4,-.5,.1,0, -.55,-.55,-.55,-.55,-.55,-.55,-.55,-.55,-.55,-.55,-.55,-.55,-.55,-.55,-.55,-.55,-.55,-.55];
const d11=[0,-.15,-.15,-.25,-.25,-.25,.1,-.3,-.3,-.3,-.3,-.3,-.3,-.3,-.3,-.3,-.3,-.3, -.25,-.25,-.25,-.25,-.25,-.25,-.25,-.25,-.25,-.25,-.25,-.25,-.25,-.25,-.25,-.25,-.25,-.25, -.25,-.25,-.25,.6,-.2,-.1,3.5,8.5,.1,-.2,-.2,-.15,-.15,.1,-.25,-.25,-.25,-.25, .6,-.15,.3,-.1,-.1,-.2,0,-.3,-.3,-.3,-.3,-.3,0,0,0,-.25,-.25,-.1, -.28,-.28,-.28,-.28,-.28,-.28,-.28,-.28,-.28,-.28,-.28,-.28,-.28,-.28,-.28,-.28,-.28,-.28];
const d12=[-.3,-.3,-.3,.4,.4,3.5,.8,2,8,.2,-.05,.1,-.35,.6,.8,-.25,-.25,.1, -.27,-.27,-.27,-.27,-.27,-.27,-.27,-.27,-.27,-.27,-.27,-.27,-.27,-.27,-.27,-.27,-.27,-.27, -.27,-.27,-.27,-.27,-.27,-.27,-.27,-.27,-.27,-.27,-.27,-.27,-.27,-.27,-.27,-.27,-.27,-.27, -.27,-.27,-.27,-.27,-.27,-.27,-.27,-.27,-.27,-.27,-.27,-.27,-.27,-.27,-.27,-.27,-.27,-.27, -.27,-.27,-.27,-.27,-.27,-.27,-.27,-.27,-.27,-.27,-.27,-.27,-.27,-.27,-.27,-.27,-.27,-.27];
const d13=[1.2,1,.1,.4,.4,.1,1.3,.3,-.2,.8,8.8,3,.1,-.2,-.3,-.3,-.3,-.3, -.27,-.27,-.27,-.27,-.27,-.27,-.27,-.27,-.27,-.27,-.27,-.27,-.27,-.27,-.27,-.27,-.27,-.27, -.27,-.27,-.27,-.27,-.27,-.27,-.27,-.27,-.27,-.27,-.27,-.27,-.27,-.27,-.27,-.27,-.27,-.27, -.27,-.27,-.27,-.27,-.27,-.27,-.27,-.27,-.27,-.27,-.27,-.27,-.27,-.27,-.27,-.27,-.27,-.27, -.27,-.27,-.27,-.27,-.27,-.27,-.27,-.27,-.27,-.27,-.27,-.27,-.27,-.27,-.27,-.27,-.27,-.27];
const d14=[-.28,-.5,-.55,2.5,3.5,.4,1.2,.7,.4,3,2.5,.8,.1,-.15,-.15,1.2,1.2,3, -.55,-.55,-.55,-.55,-.55,-.55,-.55,-.55,-.55,-.55,-.55,-.55,-.55,-.55,-.55,-.15,-.6,.9, -.58,-.58,-.58,-.58,-.58,-.58,-.58,-.58,-.58,-.58,-.58,-.58,-.58,-.58,-.58,-.58,-.58,-.58, -.58,-.58,-.58,-.58,-.58,-.58,-.58,-.58,-.58,-.58,-.58,-.58,-.58,-.58,-.58,-.58,-.58,-.58, -.58,-.58,-.58,-.58,-.58,-.58,-.58,-.58,-.58,-.58,-.58,-.58,-.58,-.58,-.58,-.58,-.58,-.58];
const d15=[-.45,-.45,-.45,-.45,-.45,-.45,0,-.2,-.45,-.45,-.45,-.45,-.45,-.45,-.45,-.45,-.45,-.45, -.45,-.45,-.45,2,1.5,1.5,1,2,3.5,3.2,2.5,.4,-.45,-.45,-.45,-.45,-.45,-.45, -.45,-.45,-.45,-.45,-.45,-.45,-.45,-.45,-.45,-.45,-.45,-.45,-.45,-.45,-.45,-.45,-.45,-.45, -.45,-.45,-.45,-.45,-.45,-.45,-.45,-.45,-.45,-.45,-.45,-.45,-.45,-.45,-.45,-.45,-.45,-.45, -.45,-.45,-.45,-.45,-.45,-.45,-.45,-.45,-.45,-.45,-.45,-.45,-.45,-.45,-.45,-.45,-.45,-.45];
const d16=[-.5,-.5,-.5,-.5,-.5,-.5,-.5,-.5,-.5,-.5,-.5,-.5,-.5,-.5,-.5,-.5,-.5,-.5, -.5,-.5,-.5,-.5,-.5,-.5,-.5,-.5,-.5,-.5,-.5,-.5,-.5,-.5,-.5,-.5,-.5,-.5, -.5,-.5,-.5,-.5,-.5,-.5,-.5,-.5,-.5,.3,.1,2.5,-.45,-.45,-.5,2.5,0,-.45, -.45,-.45,-.45,.5,-.5,2,-.45,-.45,-.45,2,1.7,4,-.5,0,-.15,3,-.45,.4, -.45,-.45,-.45,-.45,-.45,-.45,-.45,-.45,-.45,-.45,-.45,-.45,-.45,-.45,-.45,-.45,-.45,-.45];
const d17=[-.65,-.75,-.4,-.75,-.75,-.7,-.75,-.75,-.75,-.72,-.6,-.55,-.72,-.72,-.72,-.72,-.75,-.72, -.2,-.6,-.75,-.75,-.72,-.5,-.7,-.75,-.72,-.65,-.55,-.72,-.65,-.7,-.72,-.72,-.72,-.75, -.7,-.7,-.7,.3,-.6,.8,-.1,-.2,.2,-.15,.2,-.5,.2,.4,.4,-.2,.2,.2, -.75,-.75,-.65,.1,.4,-.8,-.3,-.4,-.25,-.75,-.75,-.8,.1,.1,.1,-.75,.1,-.75, -.15,3.5,.1,-.8,-.8,-.8,2.5,2.5,2.5,1.3,1.3,1.3,-.75,-.75,-.75,-.75,-.75,-.75];
const d18=[-.3,.7,-.33,-.33,-.33,-.33,-.33,-.33,-.33,-.33,-.33,-.33,-.33,-.33,-.33,-.33,-.33,-.33, -.33,-.33,-.33,-.33,-.33,-.33,-.33,-.33,-.33,-.33,-.33,-.33,-.33,-.33,-.33,-.33,-.33,-.33, -.33,-.33,-.33,-.33,-.3,-.3,-.3,-.3,-.15,-.33,-.33,-.33,-.33,-.33,-.33,-.33,-.33,-.33, -.3,-.3,3,-.25,-.3,2,3,-.2,5,-.3,-.3,-.3,-.2,-.15,-.4,.6,-.3,.1, -.3,-.15,-.3,-.3,-.3,-.3,-.3,-.3,-.3,-.3,-.3,-.3,-.3,-.3,-.3,-.3,-.3,-.3];
const d19=[-.42,-.42,-.42,-.42,-.42,-.42,-.42,-.42,-.42,-.42,-.42,-.42,-.42,-.42,-.42,-.42,0,-.2, -.42,-.42,-.42,-.42,-.42,-.42,-.42,-.42,-.42,-.42,-.42,-.42,-.42,-.42,-.42,-.42,-.42,-.42, -.42,-.42,-.42,-.2,-.3,.5,2,.7,-.2,-.45,0,3.5,-.42,-.42,-.42,-.42,-.42,1.3, -.4,-.1,-.45,.1,-.1,.6,.6,-.4,-.35,.4,7,-.15,-.4,.4,-.55,.6,0,-.3, -.15,-.45,-.45,-.45,-.45,-.45,-.45,-.45,-.45,-.45,-.45,-.45,-.45,-.45,-.45,-.45,-.45,-.45];
const valuesD=[d00,d01,d02,d03,d04,d05,d06,d07,d08,d09,d10,d11,d12,d13,d14,d15,d16,d17,d18,d19];
const importanceD=[.0327,.03,.0281,.0279,.0266,.0253,.0229,.0209,.0207,.0205,.0205,.02,.0196,.0194,.0185,.0179,.017,.0159,.0146,.0144];

const tissueC=['fruit','soil','root','stem','leaf'];
const tissueD=['soil','root','stem','leaf','fruit'];
const tissueSize=[18,18,18,18,18];
const tissueColor={fruit:'#ED1C24',soil:'#FF7F00',root:'#B77A52',stem:'#22B14C',leaf:'#B5E61D'};

// ---------- helpers
const page=document.getElementById('page');
Chart.defaults.animation=false;Chart.defaults.responsive=false;Chart.defaults.devicePixelRatio=1;
Chart.defaults.plugins.legend.display=false;Chart.defaults.plugins.tooltip.enabled=false;
function T(txt,x,y,o={}){const d=document.createElement('div');d.className='t';d.textContent=txt;
 d.style.cssText=`left:${x}px;top:${y}px;font:${o.style||'normal'} ${o.weight||'normal'} ${o.size||13}px ${o.font||'"Liberation Serif"'};transform:translate(${o.center?'-50%':'0'},-50%);color:${o.color||'#111'}`;page.appendChild(d);}
function box(x,y,w,h,c){const d=document.createElement('div');d.className='s';d.style.cssText=`left:${x}px;top:${y}px;width:${w}px;height:${h}px;background:${c}`;page.appendChild(d);}
function cv(l,t,w,h){const c=document.createElement('canvas');c.width=w;c.height=h;c.style.cssText=`left:${l}px;top:${t}px;width:${w}px;height:${h}px`;page.appendChild(c);return c;}
function rgba(h,a){const n=parseInt(h.slice(1),16);return `rgba(${n>>16},${n>>8&255},${n&255},${a})`;}

function cladogram(nodes,wedges,rect,pxRadius,labelOff){
 const root=nodes[0],cx=root[1],cy=root[2];
 const pol=(x,y)=>({r:Math.hypot(x-cx,y-cy),a:Math.atan2(y-cy,x-cx)});
 const at=(r,a)=>({x:cx+r*Math.cos(a),y:cy+r*Math.sin(a)});
 const diff=(a,b)=>{let d=b-a;while(d>Math.PI)d-=2*Math.PI;while(d<-Math.PI)d+=2*Math.PI;return d;};
 const arc=(r,a,b)=>{const d=diff(a,b),n=Math.max(2,Math.ceil(Math.abs(d)/.04)),o=[];for(let i=0;i<=n;i++)o.push(at(r,a+d*i/n));return o;};
 const byId={};nodes.forEach(n=>byId[n[0]]=n);
 const ds=[];
 const nodePts=nodes.map(n=>({x:n[1],y:n[2]}));
 ds.push({type:'scatter',data:nodePts,order:1,showLine:false,pointRadius:nodes.map(n=>n[4]/pxRadius),pointBackgroundColor:nodes.map(n=>groupColor[n[3]]),pointBorderColor:'#4d4d4d',pointBorderWidth:nodes.map(n=>n[4]<3?0.6:1),pointHoverRadius:0});
 const links=[];
 nodes.forEach(n=>{if(!n[5])return;const p=byId[n[5]],P=pol(p[1],p[2]),C=pol(n[1],n[2]);
  if(p===root){links.push({x:p[1],y:p[2]},{x:n[1],y:n[2]},{x:null,y:null});return;}
  links.push(...arc(P.r,P.a,C.a),{x:n[1],y:n[2]},{x:null,y:null});});
 ds.push({type:'line',data:links,order:2,borderColor:'#7d7d7d',borderWidth:1.5,pointRadius:0,fill:false,tension:0,spanGaps:false});
 wedges.slice().reverse().forEach(w=>{const A=pol(w[0],w[1]),B=pol(w[2],w[3]);
  const outer=arc(B.r,B.a,A.a),inner=arc(A.r,A.a,B.a);
  ds.push({type:'line',data:inner.concat(outer),order:3,fill:'shape',backgroundColor:rgba(groupColor[w[4]],.4),borderWidth:0,borderColor:'transparent',pointRadius:0,tension:0});});
 const labels={id:'nodeLabels',afterDatasetsDraw(ch){const c=ch.ctx,X=ch.scales.x,Y=ch.scales.y,px=X.getPixelForValue(cx),py=Y.getPixelForValue(cy);
  c.save();c.font='12.5px "Liberation Sans"';c.fillStyle='#333';c.textAlign='center';c.textBaseline='middle';
  nodes.forEach(n=>{if(n[0][0]==='_')return;const x=X.getPixelForValue(n[1]),y=Y.getPixelForValue(n[2]),dx=x-px,dy=y-py,d=Math.hypot(dx,dy);
   let ang=Math.atan2(dy,dx)*180/Math.PI;if(dx<0)ang+=180;else if(ang>-90&&ang<-68)ang+=180;if(ang>180)ang-=360;
   c.save();c.translate(x+dx/d*labelOff,y+dy/d*labelOff);c.rotate(ang*Math.PI/180);c.fillText(n[0],0,0);c.restore();});
  c.restore();}};
 new Chart(cv(rect.l,rect.t,rect.w,rect.h),{type:'line',data:{datasets:ds},plugins:[labels],options:{layout:{padding:0},scales:{x:{type:'linear',min:0,max:1568,display:false},y:{type:'linear',min:0,max:1568,reverse:true,display:false}}}});
}

function legendGroups(l,x,xs,y,sw){T('Groups',x,y,{size:16});groupNames.forEach((g,i)=>{box(xs[i][0],y-sw/2,sw,sw,groupColor[g[0]]);T(g[1],xs[i][1],y,{size:13});});}
function legendTaxa(cols,groups,swx,tx,y0,dy,sw,sh,size){cols.forEach((col,i)=>col.forEach((t,j)=>{box(swx[i],y0+j*dy-sh/2,sw,sh,groupColor[groups[i][j]]);T(t,tx[i],y0+j*dy,{size:size,style:'italic'});}));}

function blueRed(v,lo,hi){const m=(a,b,t)=>Math.round(a+(b-a)*t);let t,e;if(v<0){t=Math.min(1,v/lo);e=[68,157,212];}else{t=Math.min(1,v/hi);e=[244,88,94];}return `rgb(${m(255,e[0],t)},${m(255,e[1],t)},${m(255,e[2],t)})`;}

function heatmap(rows,samples,values,plot,lo,hi,fontSize){
 const ds=samples.map((s,j)=>({label:s,data:rows.map(()=>1),backgroundColor:values.map(r=>blueRed(r[j],lo,hi)),borderColor:'#fff',borderWidth:.5,borderSkipped:false,inflateAmount:0,barPercentage:1,categoryPercentage:1}));
 const xlab={id:'sampleLabels',afterDraw(ch){const c=ch.ctx,X=ch.scales.x,b=ch.chartArea.bottom;c.save();c.font='14px "Liberation Sans"';c.fillStyle='#222';c.textAlign='left';c.textBaseline='middle';
  samples.forEach((s,j)=>{c.save();c.translate(X.getPixelForValue(j+.5),b+7);c.rotate(Math.PI/2);c.fillText(s,0,0);c.restore();});c.restore();}};
 new Chart(cv(0,plot.t-20,plot.r+4,plot.b-plot.t+80),{type:'bar',data:{labels:rows,datasets:ds},plugins:[xlab],options:{indexAxis:'y',layout:{padding:{top:20,bottom:60,right:4,left:0}},
  scales:{x:{type:'linear',min:0,max:samples.length,stacked:true,display:false},y:{stacked:true,afterFit(s){s.width=plot.l;},grid:{display:false,drawTicks:false},border:{display:false},ticks:{autoSkip:false,padding:7,color:'#111',font:{family:'"Liberation Sans"',style:'italic',size:fontSize}}}}}});
}
function annotation(names,plot,nudge){
 const ds=names.map((n,i)=>({label:n,data:[tissueSize[i]],backgroundColor:tissueColor[n],borderColor:'#fff',borderWidth:1.5,borderSkipped:false,inflateAmount:0,barPercentage:1,categoryPercentage:1}));
 const lab={id:'tissueLabels',afterDatasetsDraw(ch){const c=ch.ctx;c.save();c.font='19px "Liberation Serif"';c.fillStyle='#111';c.textAlign='center';c.textBaseline='middle';
  names.forEach((n,i)=>{const e=ch.getDatasetMeta(i).data[0];c.fillText(n,(e.x+e.base)/2+nudge,e.y);});c.restore();}};
 new Chart(cv(plot.l-2,plot.t,plot.r-plot.l+4,plot.b-plot.t),{type:'bar',data:{labels:['tissue'],datasets:ds},plugins:[lab],options:{indexAxis:'y',layout:{padding:{left:2,right:2}},scales:{x:{type:'linear',min:0,max:90,stacked:true,display:false},y:{stacked:true,display:false}}}});
}
function importance(rows,vals,plot,ticks){
 const fr={id:'frame',beforeDraw(ch){const a=ch.chartArea,c=ch.ctx;c.save();c.strokeStyle='#555';c.lineWidth=1.5;c.strokeRect(a.left,a.top-4,a.right-a.left,a.bottom-a.top+8);c.restore();}};
 new Chart(cv(plot.l-20,plot.t-20,plot.r-plot.l+50,plot.b-plot.t+60),{type:'bar',data:{labels:rows,datasets:[{data:vals.map(v=>[ticks[2]*.025,v]),backgroundColor:'#ECD98F',barPercentage:.88,categoryPercentage:1,borderWidth:0}]},plugins:[fr],
  options:{indexAxis:'y',layout:{padding:{left:20,right:30,top:20,bottom:0}},scales:{y:{display:false,reverse:false,offset:true},x:{type:'linear',min:0,max:ticks[3],grid:{display:false,drawTicks:false},border:{display:false},afterBuildTicks(s){s.ticks=ticks.slice(0,3).map(v=>({value:v}));},
  ticks:{autoSkip:false,maxRotation:0,minRotation:0,padding:12,color:'#111',font:{family:'"Liberation Sans"',size:14},callback:v=>String(v)}}}}});
}
function colorbar(plot,labels,pos){
 new Chart(cv(plot.l,plot.t-10,80,plot.b-plot.t+20),{type:'bar',data:{labels:['scale'],datasets:[{data:[[-1,1]],barPercentage:1,categoryPercentage:1,borderWidth:0,backgroundColor(ctx){const a=ctx.chart.chartArea;if(!a)return '#fff';const g=ctx.chart.ctx.createLinearGradient(0,a.top,0,a.bottom);g.addColorStop(0,'#f4585e');g.addColorStop(.5,'#ffffff');g.addColorStop(1,'#449dd4');return g;}}]},
  options:{layout:{padding:{top:10,bottom:10}},scales:{x:{display:false},y:{position:'right',min:-1,max:1,afterFit(s){s.width=80-(plot.r-plot.l);},grid:{display:false,drawTicks:false},border:{display:false},afterBuildTicks(s){s.ticks=pos.map(v=>({value:v}));},ticks:{autoSkip:false,padding:5,color:'#111',font:{family:'"Liberation Sans"',size:14},callback:(v,i)=>labels[i]}}}}});
}

// ---------- panel letters
[['A',12,24],['B',14,841],['C',12,1677],['D',13,2171]].forEach(p=>T(p[0],p[1],p[2],{size:32,weight:'bold',font:'"Liberation Sans"',color:'#000'}));
// ---------- A
T('LefSe analysis',431,36,{size:14.2,center:true});T('The current LDA threshold is 3.67',431,55,{size:14.2,center:true});
cladogram(nodesA,wedgesA,{l:0,t:0,w:800,h:780},1.96,18);
legendGroups(0,1424,[[1482,1514],[1526,1559],[1572,1608],[1626,1658],[1671,1703]],104,19);
T('Taxa',848,199,{size:16});
legendTaxa([taxaA1,taxaA2,taxaA3,taxaA4],taxaAGroups,[848,1047,1249,1449],[876,1074,1276,1477],222.9,19.36,19,18,13.8);
// ---------- B
T('LefSe analysis',389,868,{size:13.3,center:true});T('The current LDA threshold is 3.48',389,885,{size:13.3,center:true});
cladogram(nodesB,wedgesB,{l:0,t:820,w:780,h:780},1.96,18);
legendGroups(0,1433,[[1488,1514],[1530,1556],[1574,1600],[1624,1650],[1668,1694]],934,18);
T('Taxa',783,1029,{size:16});
legendTaxa([taxaB1,taxaB2,taxaB3,taxaB4],taxaBGroups,[783,1054,1268,1516],[809,1080,1294,1542],1052.7,19.23,18,18,13.4);
// ---------- C
heatmap(genusC,samplesC,valuesC,{l:380,r:1645,t:1736,b:2017},-.83,8.82,14);
annotation(tissueC,{l:380,r:1645,t:2062,b:2089},-8);
T('Importance',1651,1712,{size:20,font:'"Liberation Sans"'});
importance(genusC,importanceC,{l:1657,r:1745,t:1736,b:2017},[0,.014,.029,.0304]);
colorbar({l:1769,r:1781,t:1735,b:1853},['-0.83','0.00','8.82'],[-.92,0,.86]);
// ---------- D
heatmap(genusD,samplesD,valuesD,{l:300,r:1639,t:2213,b:2511},-.88,8.73,15);
annotation(tissueD,{l:300,r:1639,t:2561,b:2588},-8);
T('Importance',1644,2189,{size:21,font:'"Liberation Sans"'});
importance(genusD,importanceD,{l:1651,r:1745,t:2213,b:2511},[0,.016,.032,.0348]);
colorbar({l:1769,r:1782,t:2213,b:2338},['-0.58','0.00','8.73'],[-.9,0,.87]);
</script></body></html>
